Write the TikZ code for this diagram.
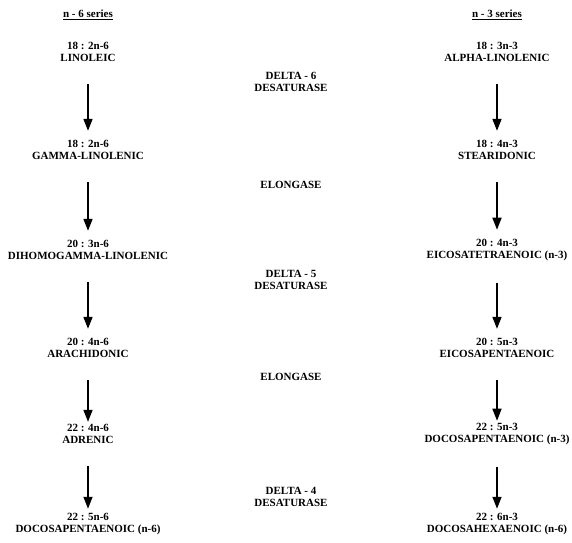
\documentclass[tikz,border=0pt]{standalone}
\usepackage{fontspec}
\setmainfont{Liberation Serif}
\usetikzlibrary{arrows.meta}
\begin{document}
\begin{tikzpicture}[x=1pt, y=-1pt,
	acid/.style={align=center, font=\bfseries\fontsize{11}{12.5}\selectfont, inner sep=0pt},
	enzyme/.style={acid},
	flow/.style={-{Triangle[width=9pt,length=12pt]}, line width=1.6pt, shorten <=22pt, shorten >=9pt}]
	
	\useasboundingbox (0,0) rectangle (572,542);
	
	%Headers
	\node (headSix) at (88,15) [acid]{\underline{n - 6 series}};
	\node (headThree) at (497,15) [acid]{\underline{n - 3 series}};
	
	%n-6 series
	\node (linoleic) at (88,52) [acid]{18 : 2n-6\\LINOLEIC};
	\node (gammaLin) at (88,150) [acid]{18 : 2n-6\\GAMMA-LINOLENIC};
	\node (dihomo) at (88,250) [acid]{20 : 3n-6\\DIHOMOGAMMA-LINOLENIC};
	\node (arachidonic) at (88,348) [acid]{20 : 4n-6\\ARACHIDONIC};
	\node (adrenic) at (88,434) [acid]{22 : 4n-6\\ADRENIC};
	\node (docosaSix) at (88,524) [acid]{22 : 5n-6\\DOCOSAPENTAENOIC (n-6)};
	
	%n-3 series
	\node (alphaLin) at (497,52) [acid]{18 : 3n-3\\ALPHA-LINOLENIC};
	\node (stearidonic) at (497,150) [acid]{18 : 4n-3\\STEARIDONIC};
	\node (eicosaTetra) at (497,250) [acid]{20 : 4n-3\\EICOSATETRAENOIC (n-3)};
	\node (eicosaPenta) at (497,348) [acid]{20 : 5n-3\\EICOSAPENTAENOIC};
	\node (docosaPenta) at (497,434) [acid]{22 : 5n-3\\DOCOSAPENTAENOIC (n-3)};
	\node (docosaHexa) at (497,524) [acid]{22 : 6n-3\\DOCOSAHEXAENOIC (n-6)};
	
	%Enzymes
	\node (deltaSix) at (291,82) [enzyme]{DELTA - 6\\DESATURASE};
	\node (elongOne) at (291,185) [enzyme]{ELONGASE};
	\node (deltaFive) at (291,280) [enzyme]{DELTA - 5\\DESATURASE};
	\node (elongTwo) at (291,377) [enzyme]{ELONGASE};
	\node (deltaFour) at (291,497) [enzyme]{DELTA - 4\\DESATURASE};
	
	%Arrows
	\draw[flow] (linoleic) -- (gammaLin);
	\draw[flow] (gammaLin) -- (dihomo);
	\draw[flow] (dihomo) -- (arachidonic);
	\draw[flow, shorten >=2pt] (arachidonic) -- (adrenic);
	\draw[flow, shorten >=4pt] (adrenic) -- (docosaSix);
	
	\draw[flow] (alphaLin) -- (stearidonic);
	\draw[flow] (stearidonic) -- (eicosaTetra);
	\draw[flow] (eicosaTetra) -- (eicosaPenta);
	\draw[flow, shorten >=2pt] (eicosaPenta) -- (docosaPenta);
	\draw[flow, shorten >=4pt] (docosaPenta) -- (docosaHexa);
	
\end{tikzpicture}
\end{document}
